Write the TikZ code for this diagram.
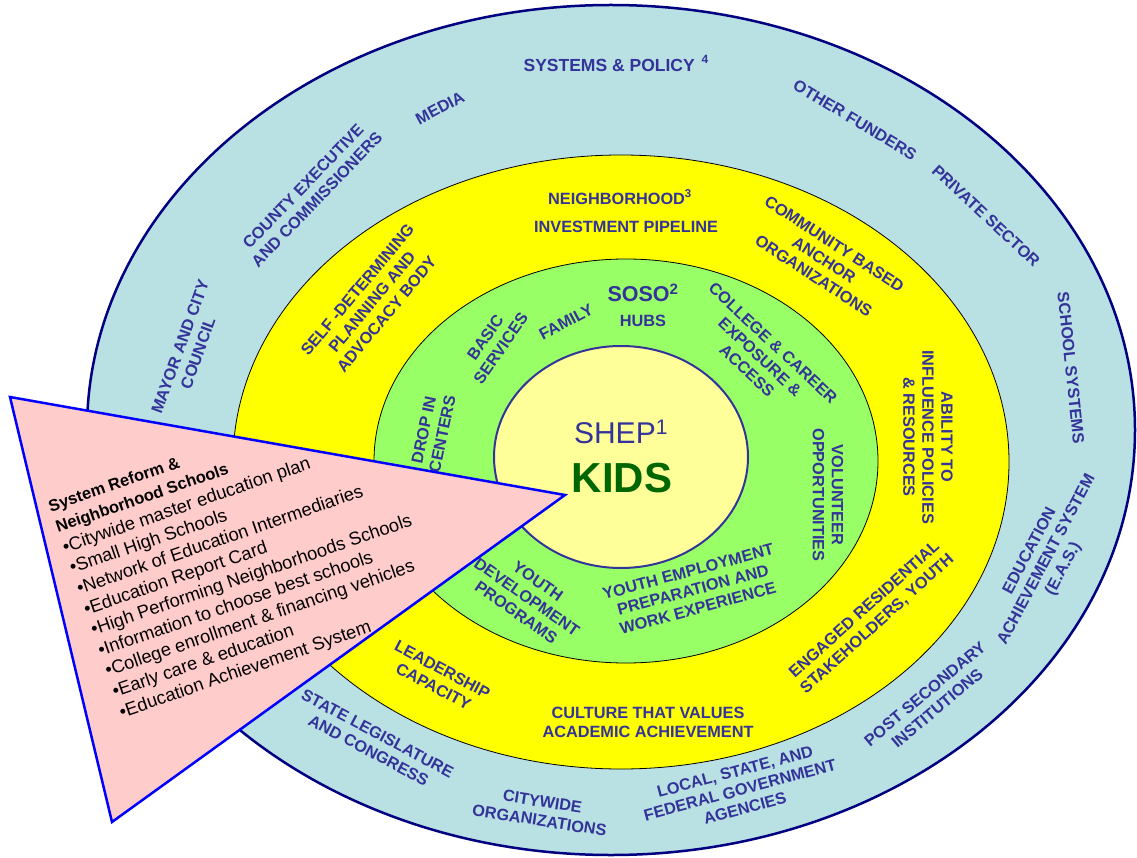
\documentclass[tikz,border=0pt]{standalone}
\usepackage{fontspec}
\setmainfont{Liberation Sans}
\definecolor{systemsblue}{HTML}{B9E0E3}
\definecolor{hoodyellow}{HTML}{FFFF00}
\definecolor{hubgreen}{HTML}{99FF66}
\definecolor{kidsyellow}{HTML}{FFFF99}
\definecolor{reformpink}{HTML}{FFCCCC}
\definecolor{ringtext}{HTML}{333399}
\definecolor{kidsgreen}{HTML}{006600}
\definecolor{rimnavy}{HTML}{000080}

\begin{document}
\begin{tikzpicture}[x=1pt,y=-1pt]

\tikzstyle{every node}=[inner sep=0pt,align=center]
\tikzstyle{ring}=[text=ringtext,font=\bfseries\fontsize{16.3}{19}\selectfont]
\tikzstyle{band}=[draw=black,line width=0.8pt]
\tikzstyle{reform}=[font=\fontsize{18.3}{21.8}\selectfont,align=left]

\useasboundingbox (0,0) rectangle (1137,858);

% the four rings, outside in
\draw[fill=systemsblue,draw=rimnavy,line width=2.5pt] (611,430) ellipse [x radius=524, y radius=425];
\draw[band,fill=hoodyellow] (621,462) ellipse [x radius=388, y radius=307];
\draw[band,fill=hubgreen] (626,461) ellipse [x radius=252, y radius=202];
\draw[fill=kidsyellow,draw=ringtext,line width=2pt] (621,457) ellipse [x radius=127, y radius=111];

% systems & policy
\node[ring,font=\bfseries\fontsize{17.5}{20}\selectfont] (systemsname) at (616,63) {SYSTEMS \& POLICY\hspace{7pt}\raisebox{8pt}{\fontsize{12}{12}\selectfont 4}};
\node[ring,rotate=28] (medianame) at (440,108) {MEDIA};
\node[ring,rotate=46] (countyname) at (310,193) {COUNTY EXECUTIVE\\AND COMMISSIONERS};
\node[ring,rotate=70] (mayorname) at (189,350) {MAYOR AND CITY\\COUNCIL};
\node[ring,rotate=-31] (fundersname) at (855,120) {OTHER FUNDERS};
\node[ring,rotate=-43] (privatename) at (986,216) {PRIVATE SECTOR};
\node[ring,rotate=-84] (schoolname) at (1071,368) {SCHOOL SYSTEMS};
\node[ring,rotate=62] (easname) at (1047,560) {EDUCATION\\ACHIEVEMENT SYSTEM\\(E.A.S.)};
\node[ring,rotate=40] (postname) at (931,701) {POST SECONDARY\\INSTITUTIONS};
\node[ring,rotate=15] (govname) at (740,790) {LOCAL, STATE, AND\\FEDERAL GOVERNMENT\\AGENCIES};
\node[ring,rotate=-9] (citywidename) at (541,811) {CITYWIDE\\ORGANIZATIONS};
\node[ring,rotate=-28] (statename) at (373,742) {STATE LEGISLATURE\\AND CONGRESS};

% neighborhood
\node[ring] (hoodname) at (620,197) {NEIGHBORHOOD\textsuperscript{3}};
\node[ring] (pipename) at (626,227) {INVESTMENT PIPELINE};
\node[ring,rotate=-33] (anchorname) at (824,260) {COMMUNITY BASED\\ANCHOR\\ORGANIZATIONS};
\node[ring,rotate=50] (selfname) at (372,302) {SELF -DETERMINING\\PLANNING AND\\ADVOCACY BODY};
\node[ring,rotate=-90] (abilityname) at (928,437) {ABILITY TO\\INFLUENCE POLICIES\\\& RESOURCES};
\node[ring,rotate=42] (engagedname) at (871,617) {ENGAGED RESIDENTIAL\\STAKEHOLDERS, YOUTH};
\node[ring] (culturename) at (648,722) {CULTURE THAT VALUES\\ACADEMIC ACHIEVEMENT};
\node[ring,rotate=-28] (leadname) at (438,678) {LEADERSHIP\\CAPACITY};

% soso hubs
\node[ring,font=\bfseries\fontsize{21.5}{24}\selectfont] (sosoname) at (643,293) {SOSO\textsuperscript{2}};
\node[ring] (hubsname) at (643,321) {HUBS};
\node[ring,rotate=28] (familyname) at (566,322) {FAMILY};
\node[ring,rotate=55] (basicname) at (493,343) {BASIC\\SERVICES};
\node[ring,rotate=78] (dropname) at (433,432) {DROP IN\\CENTERS};
\node[ring,rotate=-43] (collegename) at (760,357) {COLLEGE \& CAREER\\EXPOSURE \&\\ACCESS};
\node[ring,rotate=-90] (volunteername) at (828,495) {VOLUNTEER\\OPPORTUNITIES};
\node[ring,rotate=15] (employname) at (693,590) {YOUTH EMPLOYMENT\\PREPARATION AND\\WORK EXPERIENCE};
\node[ring,rotate=-35] (youthname) at (527,597) {YOUTH\\DEVELOPMENT\\PROGRAMS};

% centre
\node[text=ringtext,font=\fontsize{30}{32}\selectfont] (shepname) at (621,432) {SHEP\textsuperscript{1}};
\node[text=kidsgreen,font=\bfseries\fontsize{42}{44}\selectfont] (kidsname) at (622,478) {KIDS};

% system reform wedge
\draw[fill=reformpink,draw=blue,line width=2.5pt] (10,397) -- (565,495) -- (112,822) -- cycle;
\node[reform,rotate=19,anchor=south west] (reformname) at (123,722) {%
\textbf{\fontsize{16.5}{21.8}\selectfont System Reform \&}\\
\textbf{\fontsize{16.5}{21.8}\selectfont Neighborhood Schools}\\
•Citywide master education plan\\
•Small High Schools\\
•Network of Education Intermediaries\\
•Education Report Card\\
•High Performing Neighborhoods Schools\\
•Information to choose best schools\\
•College enrollment \& financing vehicles\\
•Early care \& education\\
•Education Achievement System};

\end{tikzpicture}
\end{document}
